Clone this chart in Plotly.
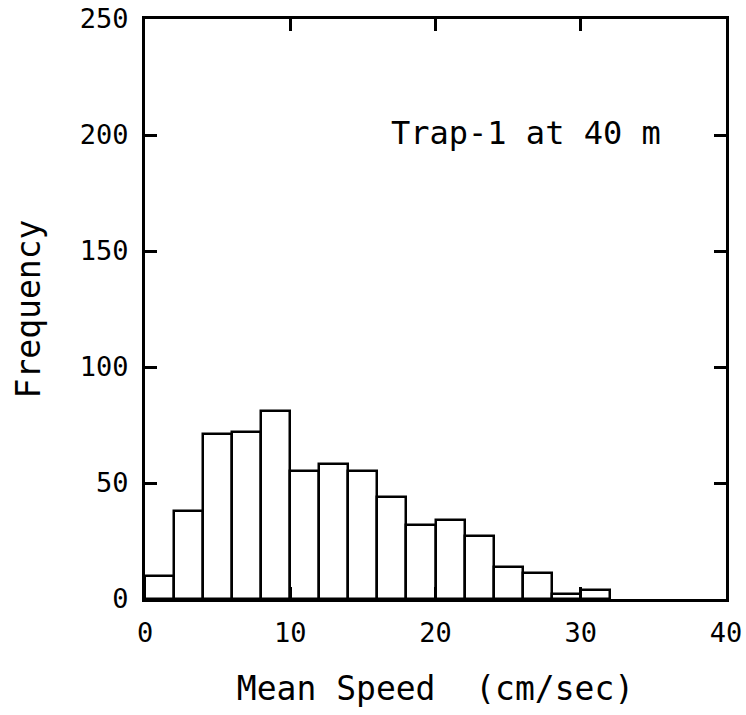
import plotly.graph_objects as go

# Histogram bins (cm/sec) and frequencies
bin_left = [0, 2, 4, 6, 8, 10, 12, 14, 16, 18, 20, 22, 24, 26, 28, 30]
bin_width = 2
counts = [10, 38, 71, 72, 81, 55, 58, 55, 44, 32, 34, 27, 14, 11, 2, 4]

x_ticks = [0, 10, 20, 30, 40]
y_ticks = [0, 50, 100, 150, 200, 250]

FONT = "DejaVu Sans Mono"

fig = go.Figure()
fig.add_trace(go.Bar(
    x=[b + bin_width / 2 for b in bin_left],
    y=counts,
    width=[bin_width] * len(bin_left),
    marker=dict(color="white", line=dict(color="black", width=2.5)),
    showlegend=False,
))

axis_common = dict(
    showline=True, linecolor="black", linewidth=3, mirror="ticks",
    ticks="inside", ticklen=12, tickwidth=2.5, tickcolor="black",
    showgrid=False, zeroline=False, automargin=False,
    tickfont=dict(family=FONT, size=27, color="black"),
)

fig.update_xaxes(range=[0, 40], tickvals=x_ticks,
                 title=dict(text="Mean Speed  (cm/sec)", font=dict(family=FONT, size=33, color="black"), standoff=30),
                 ticklabelstandoff=8, **axis_common)
fig.update_yaxes(range=[0, 250], tickvals=y_ticks,
                 title=dict(text="Frequency", font=dict(family=FONT, size=33, color="black"), standoff=30),
                 ticklabelstandoff=8, **axis_common)

fig.add_annotation(x=26.2, y=201, xref="x", yref="y", text="Trap-1 at 40 m",
                   showarrow=False, font=dict(family=FONT, size=32, color="black"),
                   xanchor="center", yanchor="middle")

fig.update_layout(
    width=746, height=715,
    margin=dict(l=145, r=20, t=19, b=116),
    paper_bgcolor="white", plot_bgcolor="white",
    bargap=0,
)

fig.write_html("out.html")
